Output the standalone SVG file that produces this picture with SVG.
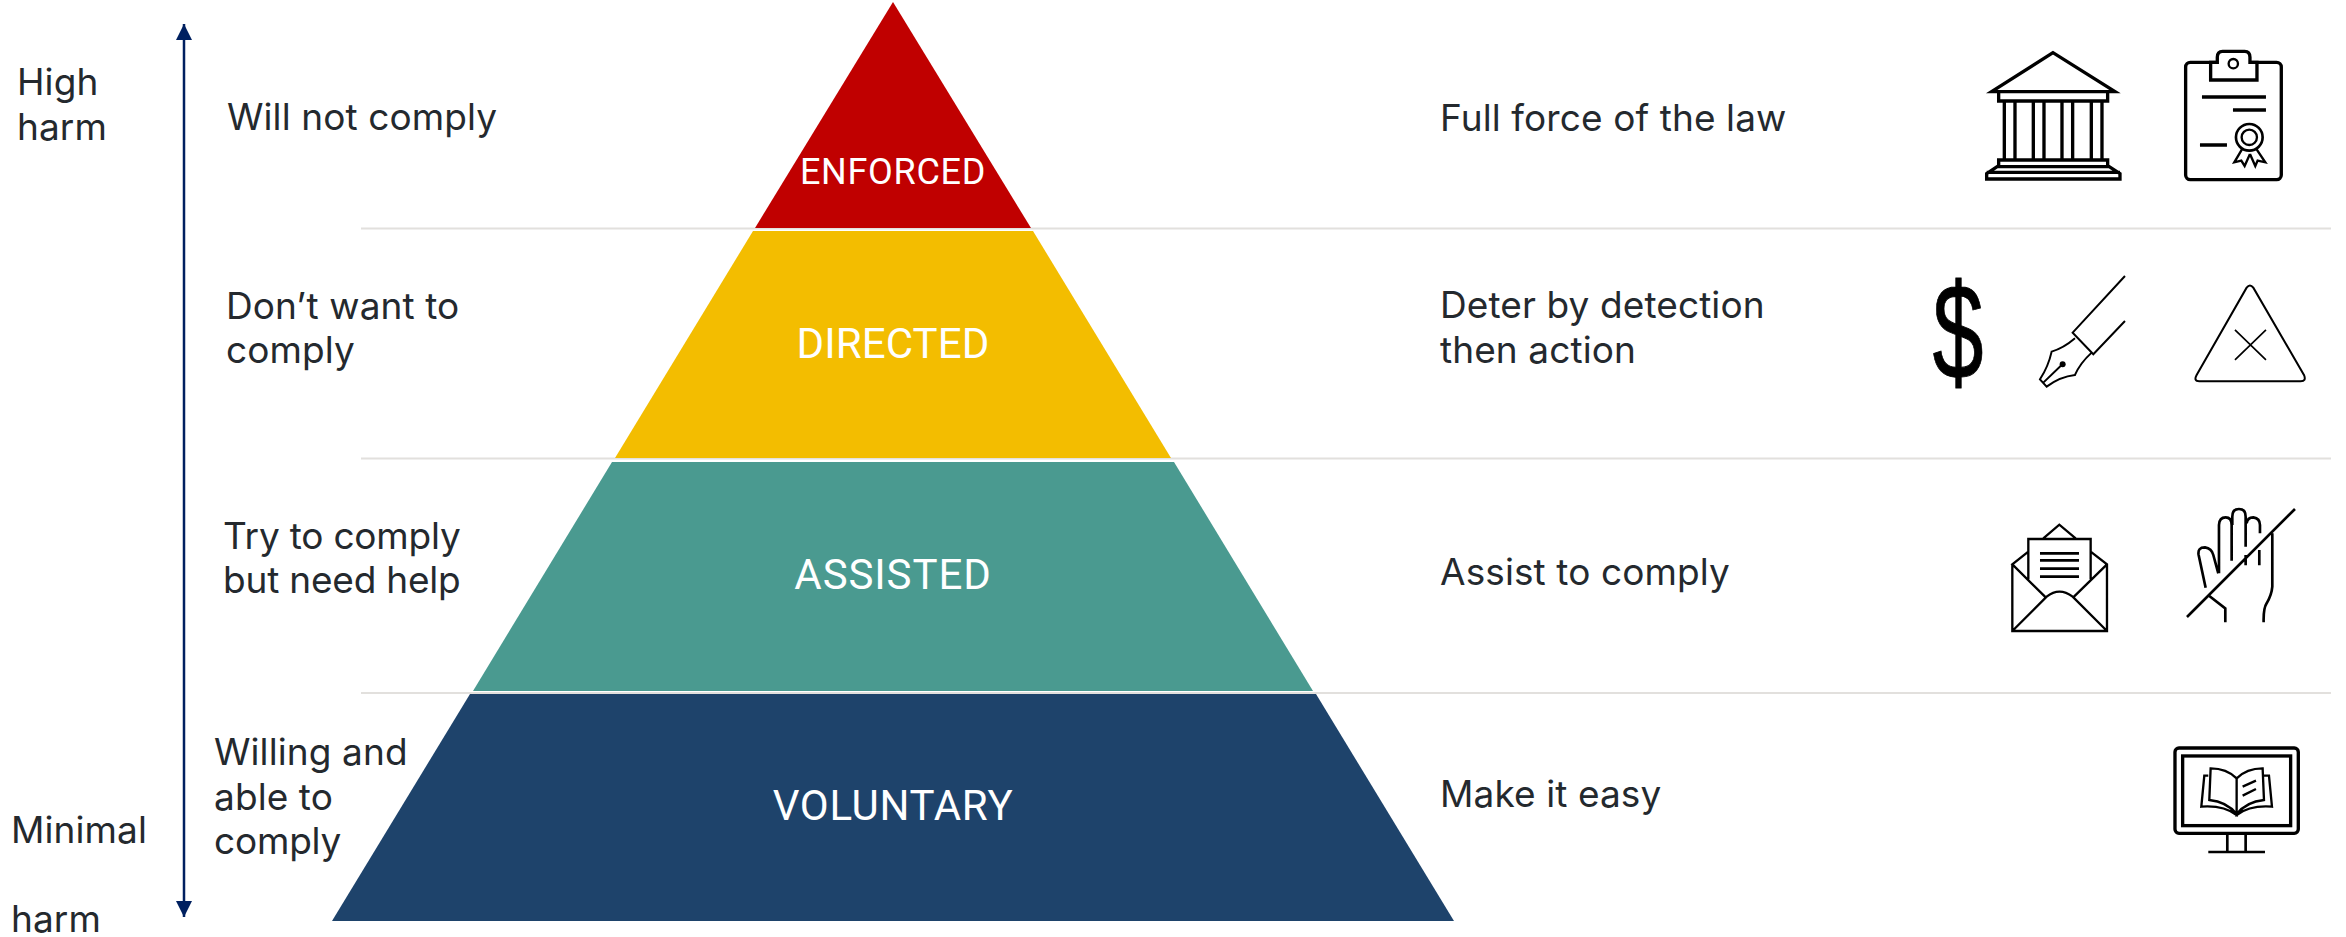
<svg xmlns="http://www.w3.org/2000/svg" width="2346" height="937" viewBox="0 0 2346 937">
<style>
.t{font-family:"Inter","Liberation Sans",sans-serif;font-size:37px;letter-spacing:.1px;fill:#24292e}
.l{font-family:"Roboto","Liberation Sans",sans-serif;font-size:42px;letter-spacing:.9px;fill:#fff;text-anchor:middle}
.sep{stroke:#e2e0dd;stroke-width:2;fill:none}
.i{fill:none;stroke:#000;stroke-width:10}
.iw{fill:#fff;stroke:#000;stroke-width:10}
</style>
<defs>
<marker id="ah" markerUnits="userSpaceOnUse" markerWidth="16" markerHeight="16" refX="16" refY="8" orient="auto-start-reverse"><path d="M0 0L16 8L0 16Z" fill="#002060"/></marker>
</defs>
<rect width="2346" height="937" fill="#fff"/>
<g id="separators">
<path class="sep" d="M361 228.500H2331M361 458.500H2331M361 693H2331"/>
</g>
<g id="connectors">
<line id="harm-axis" x1="184" y1="24" x2="184" y2="917" stroke="#002060" stroke-width="2.500" marker-start="url(#ah)" marker-end="url(#ah)"/>
</g>
<g id="enforced"><polygon points="893,2 1031,228 755,228" fill="#c00000"/><text class="l" x="893" y="184" style="font-size:36px;letter-spacing:.7px">ENFORCED</text></g>
<g id="directed"><polygon points="753,231 1033,231 1171,458 615,458" fill="#f3bd00"/><text class="l" x="893" y="358" style="letter-spacing:.1px">DIRECTED</text></g>
<g id="assisted"><polygon points="612,462 1174,462 1313,691 473,691" fill="#4a9a90"/><text class="l" x="893" y="589">ASSISTED</text></g>
<g id="voluntary"><polygon points="470,694 1316,694 1454,921 332,921" fill="#1e436b"/><text class="l" x="893" y="820" style="letter-spacing:.7px">VOLUNTARY</text></g>
<g id="axis-labels">
<text class="t" x="17" y="95">High</text><text class="t" x="17" y="140">harm</text>
<text class="t" x="11" y="843">Minimal</text><text class="t" x="11" y="932">harm</text>
</g>
<g id="left-labels">
<text class="t" x="227" y="130">Will not comply</text>
<text class="t" x="226" y="319">Don’t want to</text><text class="t" x="226" y="363">comply</text>
<text class="t" x="223" y="549" style="letter-spacing:-.2px">Try to comply</text><text class="t" x="223" y="593" style="letter-spacing:-.2px">but need help</text>
<text class="t" x="214" y="765">Willing and</text><text class="t" x="214" y="810">able to</text><text class="t" x="214" y="854" style="letter-spacing:-.2px">comply</text>
</g>
<g id="right-labels">
<text class="t" x="1440" y="131">Full force of the law</text>
<text class="t" x="1440" y="318">Deter by detection</text><text class="t" x="1440" y="363">then action</text>
<text class="t" x="1440" y="585">Assist to comply</text>
<text class="t" x="1440" y="807">Make it easy</text>
</g>
<g id="icons-upper" transform="translate(1880 30) scale(.3333)">
<g id="icon-bank">
<path class="i" d="M519 68L335 185H705ZM356 185V213H683V185M373 213V390M405 213V390M460 213V390M492 213V390M546 213V390M578 213V390M634 213V390M666 213V390M356 390V410H683V390ZM356 407L320 431V447H720V431L683 407M320 427H720"/>
</g>
<g id="icon-certificate">
<rect class="i" x="917" y="97" width="287" height="352" rx="14"/>
<path class="iw" d="M992 97V150H1131V97H1110V82Q1110 64 1094 64H1028Q1012 64 1012 82V97Z"/>
<circle class="i" cx="1060" cy="101" r="14" style="stroke-width:7"/>
<path class="i" style="stroke-width:11" d="M966 201H1158M1059 240H1158M960 345H1041"/>
<circle class="i" cx="1108" cy="322" r="40" style="stroke-width:8"/>
<circle class="i" cx="1108" cy="322" r="23" style="stroke-width:7"/>
<path class="i" style="stroke-width:7" d="M1086 358L1063 397L1084 392L1094 408L1110 372M1130 358L1156 397L1133 392L1126 408L1110 372"/>
</g>
<text id="icon-dollar" transform="translate(234 1047) scale(.68 1)" font-family="Liberation Sans, sans-serif" font-size="405" text-anchor="middle" fill="#000" stroke="#000" stroke-width="2.500">$</text>
<g id="icon-pen">
<path class="i" style="stroke-width:6" d="M735 738L578 908L640 973L735 873M585 925Q550 955 515 965Q505 1010 480 1048L500 1070Q540 1040 585 1035Q600 1000 635 968M490 1058L545 1005"/>
<circle cx="548" cy="1003" r="9"/>
</g>
<g id="icon-warning">
<path class="i" style="stroke-width:6" d="M1100 773Q1110 760 1120 773L1272 1035Q1280 1054 1262 1054H958Q940 1054 950 1035Z"/>
<path class="i" style="stroke-width:5" d="M1065 900L1158 990M1158 900L1065 990"/>
</g>
</g>
<g id="icons-lower" transform="translate(1960 490) scale(.3333)">
<g id="icon-envelope">
<path class="i" style="stroke-width:7" d="M157 223V423H441V223L392 185M205 185L157 223L255 320M441 223L342 320M250 145L298 104L347 145M205 268V147H392V268M160 420L260 320Q298 290 338 320L438 420"/>
<path class="i" style="stroke-width:8" d="M240 190H357M240 211H357M240 236H357M240 260H357"/>
</g>
<g id="icon-hand">
<path class="i" style="stroke-width:8" d="M1005 57L681 381M737 293L716 195Q712 172 735 172Q755 175 760 195L775 250M777 250V105Q778 82 797 82Q815 82 815 105V212M817 105V80Q817 57 837 57Q857 57 857 80V170M857 195V226M860 100Q862 82 880 82Q900 85 900 105V130M898 180V226M937 130V290Q935 315 920 340Q910 355 911 397M748 318L796 355V397"/>
</g>
<g id="icon-monitor">
<rect class="i" x="645" y="774" width="370" height="256" rx="12"/>
<rect class="i" x="668" y="798" width="324" height="209"/>
<path class="i" style="stroke-width:8" d="M802 1030V1085M857 1030V1085M745 1086H915"/>
<path class="i" style="stroke-width:7" d="M830 865Q800 835 752 835L748 930Q800 935 830 972ZM830 865Q860 835 908 835L912 930Q860 935 830 972ZM745 857H733L724 950Q790 945 830 975Q870 945 936 950L927 857H912M848 890L888 872M848 917L888 897"/>
</g>
</g>
</svg>
